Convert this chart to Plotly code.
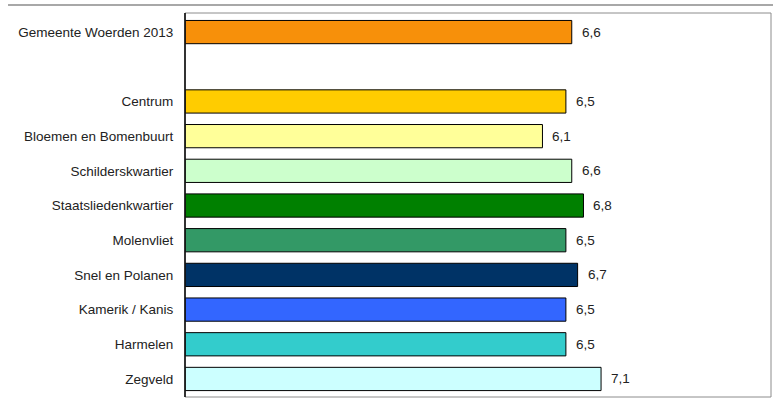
import plotly.graph_objects as go

categories = ["Gemeente Woerden 2013", "", "Centrum", "Bloemen en Bomenbuurt",
              "Schilderskwartier", "Staatsliedenkwartier", "Molenvliet",
              "Snel en Polanen", "Kamerik / Kanis", "Harmelen", "Zegveld"]
values = [6.6, None, 6.5, 6.1, 6.6, 6.8, 6.5, 6.7, 6.5, 6.5, 7.1]
labels = ["6,6", "", "6,5", "6,1", "6,6", "6,8", "6,5", "6,7", "6,5", "6,5", "7,1"]
colors = ["#F7900A", "#FFFFFF", "#FFCC00", "#FFFF99", "#CCFFCC", "#008000",
          "#339966", "#003366", "#3366FF", "#33CCCC", "#CCFFFF"]

pos = list(range(len(categories)))
bx = [v for v in values if v is not None]
by = [p for p, v in zip(pos, values) if v is not None]
bc = [c for c, v in zip(colors, values) if v is not None]

FONT = "Liberation Sans, Arial"
FS = 13.5

fig = go.Figure()
fig.add_trace(go.Bar(
    x=bx, y=by, orientation="h", width=0.67,
    marker=dict(color=bc, line=dict(color="#000000", width=1)),
    hoverinfo="skip",
))

for p, v, t in zip(pos, values, labels):
    if v is None:
        continue
    fig.add_annotation(x=v, y=p, text=t, showarrow=False, xanchor="left",
                       xshift=8, font=dict(family=FONT, size=FS, color="#222"))

fig.add_shape(type="line", xref="paper", yref="paper", x0=-0.302, x1=1.01,
              y0=1.021, y1=1.021, line=dict(color="#A8A8A8", width=2))
fig.add_shape(type="rect", xref="paper", yref="paper", x0=0, x1=1, y0=0, y1=1,
              line=dict(color="#8C8C8C", width=1), layer="above")
fig.add_shape(type="line", xref="paper", yref="paper", x0=0, x1=0, y0=0, y1=1,
              line=dict(color="#000000", width=1.5), layer="above")

fig.update_layout(
    width=773, height=418,
    margin=dict(l=185, r=2, t=13, b=21),
    paper_bgcolor="white", plot_bgcolor="white",
    showlegend=False,
    font=dict(family=FONT, size=FS, color="#222"),
    xaxis=dict(range=[0, 10], showgrid=False, zeroline=False, showticklabels=False,
               showline=False, ticks=""),
    yaxis=dict(range=[10.52, -0.55], tickmode="array", tickvals=pos, ticktext=categories,
               showgrid=False, zeroline=False, showline=False, ticks="outside",
               ticklen=8, tickcolor="rgba(0,0,0,0)"),
)

fig.write_html("out.html", config={"displayModeBar": False},
               post_script="document.body.style.margin='0';")
